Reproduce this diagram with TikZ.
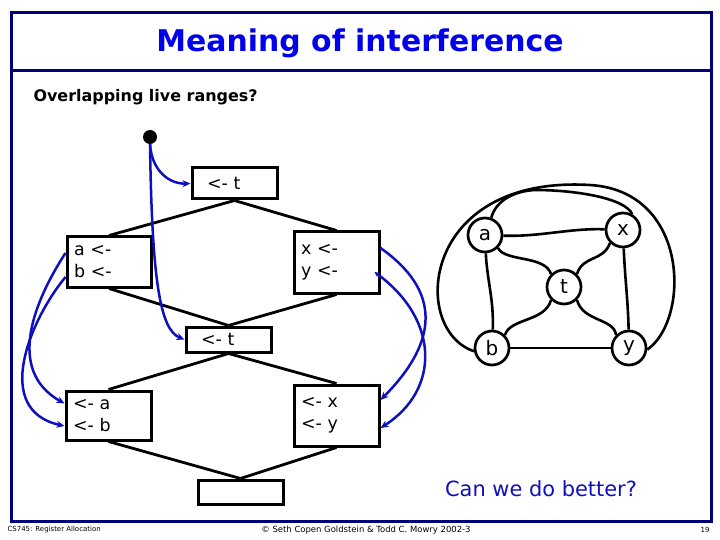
\documentclass[tikz,border=0pt]{standalone}
\usepackage{fontspec}
\setmainfont{DejaVu Sans}
\usetikzlibrary{arrows.meta,calc}
\definecolor{navyline}{RGB}{0,0,120}
\definecolor{titleblue}{RGB}{0,0,235}
\definecolor{arrowblue}{RGB}{15,15,190}
\begin{document}
\begin{tikzpicture}[x=1bp,y=-1bp,
  cfgbox/.style={draw, line width=3bp, font=\fontsize{17.5}{22}\selectfont, align=left, inner ysep=0pt},
  gnode/.style={draw, circle, line width=2.7bp, minimum size=34bp, inner sep=0pt, font=\fontsize{20}{22}\selectfont},
  gedge/.style={line width=2.6bp},
  flow/.style={line width=2.8bp},
  dep/.style={draw=arrowblue, line width=2.5bp, -{Stealth[length=8bp,width=7bp]}},
  foot/.style={font=\fontsize{7}{8}\selectfont}]
\useasboundingbox (0,0) rectangle (720,540);
% frame
\draw[navyline, line width=3bp] (11,13) rectangle (711,521);
\draw[navyline, line width=3bp] (11,71) -- (711,71);
% titles
\node[titleblue, font=\fontsize{30}{34}\selectfont\bfseries] (title) at (360,43) {Meaning of interference};
\node[anchor=west, font=\fontsize{16}{19}\selectfont\bfseries] (sub) at (30,97) {Overlapping live ranges?};
% CFG
\node[circle, fill=black, minimum size=14bp, inner sep=0pt] (entry) at (150,137) {};
\node[cfgbox, text width=55bp, inner xsep=15bp, minimum height=31bp] (t1) at (234.5,183.5) {<- t};
\node[cfgbox, text width=70bp, inner xsep=7bp, minimum height=50bp] (ab) at (109,262) {a <-\\b <-};
\node[cfgbox, text width=71bp, inner xsep=7bp, minimum height=61bp] (xy) at (336.5,262.5) {x <-\\y <-};
\node[cfgbox, text width=55bp, inner xsep=15bp, minimum height=25bp] (t2) at (228.5,339.5) {<- t};
\node[cfgbox, text width=71bp, inner xsep=7bp, minimum height=49bp] (ab2) at (108.5,415.5) {<- a\\<- b};
\node[cfgbox, text width=71bp, inner xsep=7bp, minimum height=61bp] (xy2) at (336.5,415.5) {<- x\\<- y};
\node[cfgbox, minimum width=85bp, minimum height=24bp, inner sep=0pt] (exit) at (240.5,492) {};
\draw[flow] (t1.south) -- (ab.north);
\draw[flow] (t1.south) -- (xy.north);
\draw[flow] (ab.south) -- (t2.north);
\draw[flow] (xy.south) -- (t2.north);
\draw[flow] (t2.south) -- (ab2.north);
\draw[flow] (t2.south) -- (xy2.north);
\draw[flow] (ab2.south) -- (exit.north);
\draw[flow] (xy2.south) -- (exit.north);
% blue def-use arrows
\draw[dep] (entry.south) .. controls (152,172) and (170,184) .. (t1.west);
\draw[dep] (entry.south) .. controls (152,280) and (160,330) .. (t2.west);
\draw[dep] ([yshift=9bp]ab.west) .. controls (35,300) and (5,370) .. ([yshift=12bp]ab2.west);
\draw[dep] ([yshift=-15bp]ab.west) .. controls (30,320) and (-8,410) .. ([yshift=-10.5bp]ab2.west);
\draw[dep] ([yshift=14.5bp]xy.east) .. controls (440,290) and (440,340) .. ([yshift=15.5bp]xy2.east);
\draw[dep, {Stealth[length=5bp,width=5bp]}-{Stealth[length=8bp,width=7bp]}] ([xshift=-6bp,yshift=-9.5bp]xy.east) .. controls (440,320) and (440,390) .. ([yshift=-12.5bp]xy2.east);
% interference graph
\node[gnode] (ga) at (485,235) {a};
\node[gnode] (gx) at (623,230) {x};
\node[gnode] (gt) at (564,287) {t};
\node[gnode] (gb) at (492,348) {b};
\node[gnode] (gy) at (629,348) {y};
\draw[gedge] (ga) .. controls (540,237) and (570,228) .. (gx);
\draw[gedge] (ga) .. controls (487,280) and (494,300) .. (gb);
\draw[gedge] (gx) .. controls (625,280) and (628,300) .. (gy);
\draw[gedge] (gb) -- (gy);
\draw[gedge] (ga.-45) .. controls (505,262) and (545,255) .. (gt.135);
\draw[gedge] (gx.-135) .. controls (603,262) and (583,255) .. (gt.45);
\draw[gedge] (gb.45) .. controls (510,318) and (545,322) .. (gt.-135);
\draw[gedge] (gy.135) .. controls (614,318) and (583,322) .. (gt.-45);
\draw[gedge] (ga.70) .. controls (496,200) and (515,191) .. (535,190) .. controls (575,190) and (625,198) .. (gx.60);
\draw[gedge] (gb.190) .. controls (410,330) and (420,175) .. (590,185) .. controls (690,191) and (690,320) .. (gy.-5);
% question
\node[arrowblue, font=\fontsize{21}{24}\selectfont] (q) at (541,489) {Can we do better?};
% footer
\node[foot, anchor=west] (f1) at (4,530) {CS745: Register Allocation};
\node[foot, font=\fontsize{8.5}{9}\selectfont] (f2) at (366,530) {© Seth Copen Goldstein \& Todd C. Mowry 2002-3};
\node[foot, anchor=east] (f3) at (713,530) {19};
\end{tikzpicture}
\end{document}
